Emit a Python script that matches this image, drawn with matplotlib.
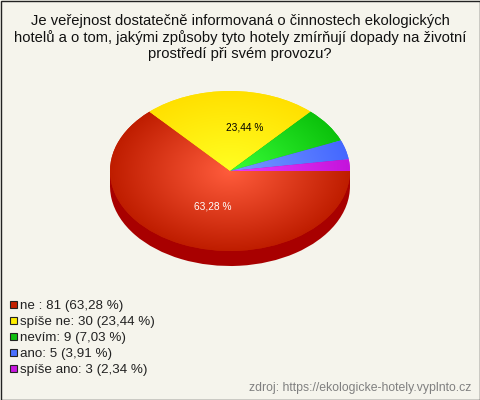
import numpy as np
import matplotlib
matplotlib.use("Agg")
import matplotlib.pyplot as plt
from matplotlib.colors import LinearSegmentedColormap
from matplotlib.patches import Rectangle

PAPER = "#f5f4ec"
plt.rcParams.update({"font.family": "Liberation Sans", "figure.facecolor": PAPER})

title = ["Je veřejnost dostatečně informovaná o činnostech ekologických",
         "hotelů a o tom, jakými způsoby tyto hotely zmírňují dopady na životní",
         "prostředí při svém provozu?"]
names = ["ne :", "spíše ne:", "nevím:", "ano:", "spíše ano:"]
counts = [81, 30, 9, 5, 3]
pcts = ["63,28", "23,44", "7,03", "3,91", "2,34"]
inner = ["#ff5c3c", "#ffff22", "#38ff38", "#7a9aff", "#ea3cfa"]
outer = ["#bf1d00", "#ffe000", "#0cc20c", "#4468ff", "#c414dc"]
swatch = ["#c42000", "#ffee00", "#10c010", "#4a70ff", "#c818e0"]
SIDE = "#a80000"

W, H = 480, 400
CX, CY, RX, RY, DEPTH = 230, 171, 120, 80, 15

def px(x, y):
    return x / W, 1 - y / H

fig = plt.figure(figsize=(W / 100, H / 100), dpi=100)
ax = fig.add_axes([0, 0, 1, 1])

# side of the disc first, then the top with a radial shade per wedge
d = DEPTH / RY
ax.pie(counts, startangle=0, counterclock=False, center=(0, -d), colors=[SIDE] * 5)
ax.add_patch(Rectangle((-1, -d), 2, d, color=SIDE, lw=0))
wedges, _ = ax.pie(counts, startangle=0, counterclock=False, colors=outer)

g = np.linspace(-1, 1, 400)
r = np.clip(np.hypot(*np.meshgrid(g, g)), 0, 1)
for w, a, b in zip(wedges, inner, outer):
    cmap = LinearSegmentedColormap.from_list("w", [a, b])
    im = ax.imshow(r, cmap=cmap, vmin=0, vmax=1, extent=(-1, 1, -1, 1),
                   aspect="auto", origin="lower", zorder=3)
    im.set_clip_path(w)

ax.set_xlim(-CX / RX, (W - CX) / RX)
ax.set_ylim(-(H - CY) / RY, CY / RY)
ax.set_axis_off()

fig.text(*px(213, 207), pcts[0] + " %", color="white", fontsize=7.3, ha="center", va="center", zorder=5)
fig.text(*px(245, 128), pcts[1] + " %", color="black", fontsize=7.3, ha="center", va="center", zorder=5)

for i, line in enumerate(title):
    fig.text(*px(240, 21 + i * 16.5), line, fontsize=10.65, color="#111111", ha="center", va="center")

for i, (n, c, p, s) in enumerate(zip(names, counts, pcts, swatch)):
    y = 305 + i * 16
    fig.add_artist(Rectangle(px(9.5, y + 3), 7 / W, 7 / H, facecolor=s, edgecolor="#222222",
                             lw=0.8, transform=fig.transFigure))
    fig.text(*px(20, y + 1), f"{n} {c} ({p} %)", fontsize=9.6, color="#222222", ha="left", va="center")

fig.text(*px(471, 388), "zdroj: https://ekologicke-hotely.vyplnto.cz", fontsize=8.8,
         color="#808080", ha="right", va="center")

fig.add_artist(Rectangle((0.5 / W, 0.5 / H), (W - 1) / W, (H - 1) / H, fill=False,
                         edgecolor="#222222", lw=1, transform=fig.transFigure))
fig.savefig("out.png", dpi=100)
